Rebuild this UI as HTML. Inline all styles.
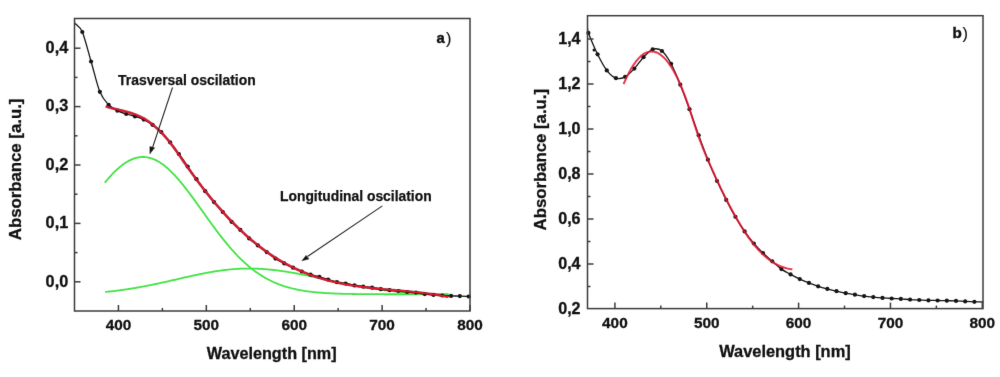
<!DOCTYPE html>
<html><head><meta charset="utf-8"><title>Absorbance spectra</title>
<style>
html,body{margin:0;padding:0;background:#fff;}
body{width:1000px;height:377px;overflow:hidden;font-family:"Liberation Sans",sans-serif;}
svg{display:block;}
</style></head>
<body>
<svg width="1000" height="377" viewBox="0 0 1000 377">
<defs><filter id="jb" x="0" y="0" width="1" height="1" color-interpolation-filters="sRGB"><feConvolveMatrix order="3" kernelMatrix="0.00524 0.06192 0.00524 0.06192 0.73137 0.06192 0.00524 0.06192 0.00524" divisor="1" edgeMode="duplicate" preserveAlpha="false"/></filter></defs>
<rect width="1000" height="377" fill="#fff"/>
<g filter="url(#jb)">
<rect width="1000" height="377" fill="#fff"/>
<g fill="none" stroke-linejoin="round" stroke-linecap="round">
  <path d="M105.30 182.08 L106.30 180.88 L107.30 179.71 L108.30 178.56 L109.30 177.43 L110.30 176.32 L111.30 175.24 L112.30 174.18 L113.30 173.14 L114.30 172.13 L115.30 171.15 L116.30 170.19 L117.30 169.27 L118.30 168.37 L119.30 167.50 L120.30 166.66 L121.30 165.85 L122.30 165.08 L123.30 164.34 L124.30 163.62 L125.30 162.95 L126.30 162.30 L127.30 161.70 L128.30 161.12 L129.30 160.58 L130.30 160.08 L131.30 159.62 L132.30 159.19 L133.30 158.80 L134.30 158.44 L135.30 158.13 L136.30 157.85 L137.30 157.61 L138.30 157.41 L139.30 157.24 L140.30 157.12 L141.30 157.04 L142.30 156.99 L143.30 156.98 L144.30 157.01 L145.30 157.09 L146.30 157.19 L147.30 157.34 L148.30 157.53 L149.30 157.76 L150.30 158.02 L151.30 158.32 L152.30 158.67 L153.30 159.04 L154.30 159.46 L155.30 159.91 L156.30 160.40 L157.30 160.92 L158.30 161.49 L159.30 162.08 L160.30 162.71 L161.30 163.38 L162.30 164.08 L163.30 164.81 L164.30 165.57 L165.30 166.37 L166.30 167.20 L167.30 168.05 L168.30 168.94 L169.30 169.86 L170.30 170.80 L171.30 171.78 L172.30 172.78 L173.30 173.80 L174.30 174.85 L175.30 175.93 L176.30 177.03 L177.30 178.15 L178.30 179.29 L179.30 180.46 L180.30 181.64 L181.30 182.85 L182.30 184.07 L183.30 185.31 L184.30 186.57 L185.30 187.84 L186.30 189.13 L187.30 190.43 L188.30 191.75 L189.30 193.07 L190.30 194.41 L191.30 195.76 L192.30 197.12 L193.30 198.49 L194.30 199.86 L195.30 201.24 L196.30 202.63 L197.30 204.02 L198.30 205.42 L199.30 206.81 L200.30 208.22 L201.30 209.62 L202.30 211.02 L203.30 212.43 L204.30 213.83 L205.30 215.23 L206.30 216.63 L207.30 218.03 L208.30 219.42 L209.30 220.81 L210.30 222.19 L211.30 223.57 L212.30 224.94 L213.30 226.30 L214.30 227.65 L215.30 229.00 L216.30 230.34 L217.30 231.67 L218.30 232.98 L219.30 234.29 L220.30 235.59 L221.30 236.87 L222.30 238.14 L223.30 239.40 L224.30 240.65 L225.30 241.88 L226.30 243.10 L227.30 244.31 L228.30 245.50 L229.30 246.67 L230.30 247.83 L231.30 248.98 L232.30 250.11 L233.30 251.22 L234.30 252.32 L235.30 253.40 L236.30 254.46 L237.30 255.51 L238.30 256.54 L239.30 257.56 L240.30 258.55 L241.30 259.53 L242.30 260.50 L243.30 261.44 L244.30 262.37 L245.30 263.28 L246.30 264.17 L247.30 265.05 L248.30 265.90 L249.30 266.74 L250.30 267.57 L251.30 268.37 L252.30 269.16 L253.30 269.93 L254.30 270.69 L255.30 271.43 L256.30 272.15 L257.30 272.85 L258.30 273.54 L259.30 274.21 L260.30 274.87 L261.30 275.51 L262.30 276.13 L263.30 276.74 L264.30 277.33 L265.30 277.90 L266.30 278.47 L267.30 279.01 L268.30 279.54 L269.30 280.06 L270.30 280.56 L271.30 281.05 L272.30 281.53 L273.30 281.99 L274.30 282.44 L275.30 282.87 L276.30 283.29 L277.30 283.70 L278.30 284.10 L279.30 284.49 L280.30 284.86 L281.30 285.22 L282.30 285.57 L283.30 285.91 L284.30 286.24 L285.30 286.55 L286.30 286.86 L287.30 287.16 L288.30 287.44 L289.30 287.72 L290.30 287.99 L291.30 288.25 L292.30 288.50 L293.30 288.74 L294.30 288.97 L295.30 289.19 L296.30 289.41 L297.30 289.61 L298.30 289.81 L299.30 290.01 L300.30 290.19 L301.30 290.37 L302.30 290.54 L303.30 290.71 L304.30 290.87 L305.30 291.02 L306.30 291.17 L307.30 291.31 L308.30 291.44 L309.30 291.57 L310.30 291.70 L311.30 291.82 L312.30 291.93 L313.30 292.04 L314.30 292.15 L315.30 292.25 L316.30 292.34 L317.30 292.44 L318.30 292.52 L319.30 292.61 L320.30 292.69 L321.30 292.77 L322.30 292.84 L323.30 292.91 L324.30 292.98 L325.30 293.04 L326.30 293.11 L327.30 293.16 L328.30 293.22 L329.30 293.27 L330.30 293.32 L331.30 293.37 L332.30 293.42 L333.30 293.46 L334.30 293.51 L335.30 293.55 L336.30 293.58 L337.30 293.62 L338.30 293.65 L339.30 293.69 L340.30 293.72 L341.30 293.75 L342.30 293.78 L343.30 293.80 L344.30 293.83 L345.30 293.85 L346.30 293.88 L347.30 293.90 L348.30 293.92 L349.30 293.94 L350.30 293.96 L351.30 293.97 L352.30 293.99 L353.30 294.01 L354.30 294.02 L355.30 294.03 L356.30 294.05 L357.30 294.06 L358.30 294.07 L359.30 294.08 L360.30 294.09 L361.30 294.10 L362.30 294.11 L363.30 294.12 L364.30 294.13 L365.30 294.14 L366.30 294.15 L367.30 294.15 L368.30 294.16 L369.30 294.17 L370.30 294.17 L371.30 294.18 L372.30 294.18 L373.30 294.19 L374.30 294.19 L375.30 294.20 L376.30 294.20 L377.30 294.20 L378.30 294.21 L379.30 294.21 L380.30 294.21 L381.30 294.22 L382.30 294.22 L383.30 294.22 L384.30 294.23 L385.30 294.23 L386.30 294.23 L387.30 294.23 L388.30 294.23 L389.30 294.24 L390.30 294.24 L391.30 294.24 L392.30 294.24 L393.30 294.24 L394.30 294.24 L395.30 294.24 L396.30 294.25 L397.30 294.25 L398.30 294.25 L399.30 294.25 L400.30 294.25 L401.30 294.25 L402.30 294.25 L403.30 294.25 L404.30 294.25 L405.30 294.25 L406.30 294.25 L407.30 294.25 L408.30 294.25 L409.30 294.25 L410.30 294.25 L411.30 294.26 L412.30 294.26 L413.30 294.26 L414.30 294.26 L415.30 294.26 L416.30 294.26 L417.30 294.26 L418.30 294.26 L419.30 294.26 L420.30 294.26 L421.30 294.26 L422.30 294.26 L423.30 294.26 L424.30 294.26 L425.30 294.26 L426.30 294.26 L427.30 294.26 L428.30 294.26 L429.30 294.26 L430.30 294.26 L431.30 294.26 L432.30 294.26 L433.30 294.26 L434.30 294.26 L435.30 294.26 L436.30 294.26 L437.30 294.26 L438.30 294.26 L439.30 294.26 L440.30 294.26 L441.30 294.26 L442.30 294.26 L443.30 294.26 L444.30 294.26 L445.30 294.26 L446.30 294.26 L447.30 294.26 L448.00 294.26" stroke="#40e444" stroke-width="1.8"/>
  <path d="M105.80 291.93 L106.80 291.83 L107.80 291.72 L108.80 291.61 L109.80 291.51 L110.80 291.39 L111.80 291.28 L112.80 291.16 L113.80 291.05 L114.80 290.92 L115.80 290.80 L116.80 290.68 L117.80 290.55 L118.80 290.42 L119.80 290.29 L120.80 290.15 L121.80 290.01 L122.80 289.88 L123.80 289.73 L124.80 289.59 L125.80 289.44 L126.80 289.29 L127.80 289.14 L128.80 288.99 L129.80 288.83 L130.80 288.67 L131.80 288.51 L132.80 288.35 L133.80 288.19 L134.80 288.02 L135.80 287.85 L136.80 287.68 L137.80 287.50 L138.80 287.32 L139.80 287.15 L140.80 286.96 L141.80 286.78 L142.80 286.59 L143.80 286.41 L144.80 286.22 L145.80 286.03 L146.80 285.83 L147.80 285.64 L148.80 285.44 L149.80 285.24 L150.80 285.04 L151.80 284.83 L152.80 284.63 L153.80 284.42 L154.80 284.21 L155.80 284.00 L156.80 283.79 L157.80 283.57 L158.80 283.36 L159.80 283.14 L160.80 282.92 L161.80 282.71 L162.80 282.48 L163.80 282.26 L164.80 282.04 L165.80 281.82 L166.80 281.59 L167.80 281.37 L168.80 281.14 L169.80 280.91 L170.80 280.69 L171.80 280.46 L172.80 280.23 L173.80 280.00 L174.80 279.77 L175.80 279.54 L176.80 279.31 L177.80 279.08 L178.80 278.85 L179.80 278.62 L180.80 278.39 L181.80 278.16 L182.80 277.93 L183.80 277.70 L184.80 277.48 L185.80 277.25 L186.80 277.02 L187.80 276.80 L188.80 276.57 L189.80 276.35 L190.80 276.13 L191.80 275.91 L192.80 275.69 L193.80 275.47 L194.80 275.25 L195.80 275.04 L196.80 274.82 L197.80 274.61 L198.80 274.40 L199.80 274.20 L200.80 273.99 L201.80 273.79 L202.80 273.59 L203.80 273.39 L204.80 273.20 L205.80 273.01 L206.80 272.82 L207.80 272.63 L208.80 272.45 L209.80 272.27 L210.80 272.09 L211.80 271.92 L212.80 271.75 L213.80 271.58 L214.80 271.42 L215.80 271.26 L216.80 271.10 L217.80 270.95 L218.80 270.81 L219.80 270.66 L220.80 270.52 L221.80 270.39 L222.80 270.26 L223.80 270.13 L224.80 270.01 L225.80 269.89 L226.80 269.78 L227.80 269.67 L228.80 269.56 L229.80 269.46 L230.80 269.37 L231.80 269.28 L232.80 269.19 L233.80 269.11 L234.80 269.04 L235.80 268.97 L236.80 268.90 L237.80 268.84 L238.80 268.79 L239.80 268.74 L240.80 268.69 L241.80 268.66 L242.80 268.62 L243.80 268.59 L244.80 268.57 L245.80 268.55 L246.80 268.54 L247.80 268.53 L248.80 268.53 L249.80 268.53 L250.80 268.54 L251.80 268.55 L252.80 268.57 L253.80 268.59 L254.80 268.62 L255.80 268.65 L256.80 268.69 L257.80 268.73 L258.80 268.77 L259.80 268.82 L260.80 268.88 L261.80 268.94 L262.80 269.00 L263.80 269.07 L264.80 269.14 L265.80 269.22 L266.80 269.30 L267.80 269.39 L268.80 269.48 L269.80 269.57 L270.80 269.67 L271.80 269.77 L272.80 269.88 L273.80 269.99 L274.80 270.11 L275.80 270.22 L276.80 270.35 L277.80 270.47 L278.80 270.60 L279.80 270.74 L280.80 270.88 L281.80 271.02 L282.80 271.16 L283.80 271.31 L284.80 271.46 L285.80 271.62 L286.80 271.77 L287.80 271.94 L288.80 272.10 L289.80 272.27 L290.80 272.44 L291.80 272.61 L292.80 272.79 L293.80 272.96 L294.80 273.14 L295.80 273.33 L296.80 273.51 L297.80 273.70 L298.80 273.89 L299.80 274.08 L300.80 274.28 L301.80 274.47 L302.80 274.67 L303.80 274.87 L304.80 275.07 L305.80 275.28 L306.80 275.48 L307.80 275.69 L308.80 275.89 L309.80 276.10 L310.80 276.31 L311.80 276.52 L312.80 276.73 L313.80 276.95 L314.80 277.16 L315.80 277.38 L316.80 277.59 L317.80 277.81 L318.80 278.02 L319.80 278.24 L320.80 278.46 L321.80 278.67 L322.80 278.89 L323.80 279.11 L324.80 279.33 L325.80 279.54 L326.80 279.76 L327.80 279.98 L328.80 280.19 L329.80 280.41 L330.80 280.63 L331.80 280.84 L332.80 281.06 L333.80 281.27 L334.80 281.48 L335.80 281.70 L336.80 281.91 L337.80 282.12 L338.80 282.33 L339.80 282.54 L340.80 282.75 L341.80 282.95 L342.80 283.16 L343.80 283.36 L344.80 283.57 L345.80 283.77 L346.80 283.97 L347.80 284.17 L348.80 284.37 L349.80 284.56 L350.80 284.76 L351.80 284.95 L352.80 285.14 L353.80 285.33 L354.80 285.52 L355.80 285.71 L356.80 285.89 L357.80 286.07 L358.80 286.26 L359.80 286.44 L360.80 286.61 L361.80 286.79 L362.80 286.96 L363.80 287.13 L364.80 287.30 L365.80 287.47 L366.80 287.64 L367.80 287.80 L368.80 287.96 L369.80 288.12 L370.80 288.28 L371.80 288.43 L372.80 288.58 L373.80 288.74 L374.80 288.88 L375.80 289.03 L376.80 289.18 L377.80 289.32 L378.80 289.46 L379.80 289.60 L380.80 289.73 L381.80 289.87 L382.80 290.00 L383.80 290.13 L384.80 290.26 L385.80 290.38 L386.80 290.51 L387.80 290.63 L388.80 290.75 L389.80 290.86 L390.80 290.98 L391.80 291.09 L392.80 291.20 L393.80 291.31 L394.80 291.42 L395.80 291.52 L396.80 291.63 L397.80 291.73 L398.80 291.83 L399.80 291.93 L400.80 292.02 L401.80 292.11 L402.80 292.21 L403.80 292.29 L404.80 292.38 L405.80 292.47 L406.80 292.55 L407.80 292.63 L408.80 292.72 L409.80 292.79 L410.80 292.87 L411.80 292.95 L412.80 293.02 L413.80 293.09 L414.80 293.16 L415.80 293.23 L416.80 293.30 L417.80 293.36 L418.80 293.43 L419.80 293.49 L420.80 293.55 L421.80 293.61 L422.80 293.67 L423.80 293.73 L424.80 293.78 L425.80 293.84 L426.80 293.89 L427.80 293.94 L428.80 293.99 L429.80 294.04 L430.80 294.08 L431.80 294.13 L432.80 294.18 L433.80 294.22 L434.80 294.26 L435.80 294.30 L436.80 294.34 L437.80 294.38 L438.80 294.42 L439.80 294.46 L440.80 294.49 L441.80 294.53 L442.80 294.56 L443.80 294.60 L444.80 294.63 L445.80 294.66 L446.80 294.69 L447.80 294.72 L448.00 294.72" stroke="#40e444" stroke-width="1.8"/>
  <path d="M74.60 23.00 C77.17 26.00 79.55 25.58 82.30 32.00 C85.05 38.42 88.15 51.53 91.08 61.50 C94.01 71.47 96.93 84.58 99.86 91.80 C102.79 99.02 105.71 101.65 108.64 104.80 C111.57 107.95 114.49 109.17 117.42 110.70 C120.35 112.23 123.27 113.05 126.20 114.00 C129.13 114.95 132.05 115.47 134.98 116.40 C137.91 117.33 140.83 118.20 143.76 119.60 C146.69 121.00 149.61 122.72 152.54 124.80 C155.47 126.88 158.39 129.18 161.32 132.10 C164.25 135.02 167.17 138.65 170.10 142.30 C173.03 145.95 175.95 149.97 178.88 154.00 C181.81 158.03 184.73 162.30 187.66 166.50 C190.59 170.70 193.51 175.08 196.44 179.20 C199.37 183.32 202.29 187.38 205.22 191.20 C208.15 195.02 211.07 198.63 214.00 202.10 C216.93 205.57 219.85 208.72 222.78 212.00 C225.71 215.28 228.63 218.82 231.56 221.80 C234.49 224.78 237.41 227.13 240.34 229.90 C243.27 232.67 246.19 235.82 249.12 238.40 C252.05 240.98 254.97 243.12 257.90 245.40 C260.83 247.68 263.75 249.90 266.68 252.10 C269.61 254.30 272.53 256.72 275.46 258.60 C278.39 260.48 281.31 261.88 284.24 263.40 C287.17 264.92 290.09 266.35 293.02 267.70 C295.95 269.05 298.87 270.33 301.80 271.50 C304.73 272.67 307.65 273.82 310.58 274.70 C313.51 275.58 316.43 275.98 319.36 276.80 C322.29 277.62 325.21 278.70 328.14 279.60 C331.07 280.50 333.99 281.53 336.92 282.20 C339.85 282.87 342.77 283.07 345.70 283.60 C348.63 284.13 351.55 284.88 354.48 285.40 C357.41 285.92 360.33 286.32 363.26 286.70 C366.19 287.08 369.11 287.28 372.04 287.70 C374.97 288.12 377.89 288.78 380.82 289.20 C383.75 289.62 386.67 289.90 389.60 290.20 C392.53 290.50 395.45 290.70 398.38 291.00 C401.31 291.30 404.23 291.73 407.16 292.00 C410.09 292.27 413.01 292.25 415.94 292.60 C418.87 292.95 421.79 293.72 424.72 294.10 C427.65 294.48 430.57 294.67 433.50 294.90 C436.43 295.13 439.35 295.33 442.28 295.50 C445.21 295.67 448.13 295.80 451.06 295.90 C453.99 296.00 456.91 296.00 459.84 296.10 C462.77 296.20 466.93 296.42 468.62 296.50 C470.31 296.58 469.54 296.57 470.00 296.60" stroke="#151515" stroke-width="1.3"/>
</g>
<g fill="#151515"><circle cx="82.30" cy="32.00" r="2.1"/><circle cx="91.08" cy="61.50" r="2.1"/><circle cx="99.86" cy="91.80" r="2.1"/><circle cx="108.64" cy="104.80" r="2.1"/><circle cx="117.42" cy="110.70" r="2.1"/><circle cx="126.20" cy="114.00" r="2.1"/><circle cx="134.98" cy="116.40" r="2.1"/><circle cx="143.76" cy="119.60" r="2.1"/><circle cx="152.54" cy="124.80" r="2.1"/><circle cx="161.32" cy="132.10" r="2.1"/><circle cx="170.10" cy="142.30" r="2.1"/><circle cx="178.88" cy="154.00" r="2.1"/><circle cx="187.66" cy="166.50" r="2.1"/><circle cx="196.44" cy="179.20" r="2.1"/><circle cx="205.22" cy="191.20" r="2.1"/><circle cx="214.00" cy="202.10" r="2.1"/><circle cx="222.78" cy="212.00" r="2.1"/><circle cx="231.56" cy="221.80" r="2.1"/><circle cx="240.34" cy="229.90" r="2.1"/><circle cx="249.12" cy="238.40" r="2.1"/><circle cx="257.90" cy="245.40" r="2.1"/><circle cx="266.68" cy="252.10" r="2.1"/><circle cx="275.46" cy="258.60" r="2.1"/><circle cx="284.24" cy="263.40" r="2.1"/><circle cx="293.02" cy="267.70" r="2.1"/><circle cx="301.80" cy="271.50" r="2.1"/><circle cx="310.58" cy="274.70" r="2.1"/><circle cx="319.36" cy="276.80" r="2.1"/><circle cx="328.14" cy="279.60" r="2.1"/><circle cx="336.92" cy="282.20" r="2.1"/><circle cx="345.70" cy="283.60" r="2.1"/><circle cx="354.48" cy="285.40" r="2.1"/><circle cx="363.26" cy="286.70" r="2.1"/><circle cx="372.04" cy="287.70" r="2.1"/><circle cx="380.82" cy="289.20" r="2.1"/><circle cx="389.60" cy="290.20" r="2.1"/><circle cx="398.38" cy="291.00" r="2.1"/><circle cx="407.16" cy="292.00" r="2.1"/><circle cx="415.94" cy="292.60" r="2.1"/><circle cx="424.72" cy="294.10" r="2.1"/><circle cx="433.50" cy="294.90" r="2.1"/><circle cx="442.28" cy="295.50" r="2.1"/><circle cx="451.06" cy="295.90" r="2.1"/><circle cx="459.84" cy="296.10" r="2.1"/><circle cx="468.62" cy="296.50" r="2.1"/></g>
<g fill="none" stroke-linejoin="round">
  <path d="M105.70 106.43 L107.70 107.03 L109.70 107.60 L111.70 108.12 L113.70 108.62 L115.70 109.10 L117.70 109.57 L119.70 110.04 L121.70 110.51 L123.70 111.00 L125.70 111.51 L127.70 112.05 L129.70 112.63 L131.70 113.26 L133.70 113.94 L135.70 114.69 L137.70 115.51 L139.70 116.41 L141.70 117.39 L143.70 118.48 L145.70 119.66 L147.70 120.96 L149.70 122.35 L151.70 123.85 L153.70 125.46 L155.70 127.17 L157.70 128.99 L159.70 130.92 L161.70 132.95 L163.70 135.10 L165.70 137.34 L167.70 139.70 L169.70 142.17 L171.70 144.74 L173.70 147.41 L175.70 150.16 L177.70 152.97 L179.70 155.82 L181.70 158.71 L183.70 161.61 L185.70 164.50 L187.70 167.38 L189.70 170.22 L191.70 173.02 L193.70 175.79 L195.70 178.52 L197.70 181.21 L199.70 183.87 L201.70 186.49 L203.70 189.08 L205.70 191.62 L207.70 194.13 L209.70 196.61 L211.70 199.05 L213.70 201.45 L215.70 203.81 L217.70 206.14 L219.70 208.43 L221.70 210.69 L223.70 212.91 L225.70 215.09 L227.70 217.24 L229.70 219.35 L231.70 221.42 L233.70 223.46 L235.70 225.46 L237.70 227.42 L239.70 229.35 L241.70 231.24 L243.70 233.10 L245.70 234.92 L247.70 236.70 L249.70 238.45 L251.70 240.16 L253.70 241.84 L255.70 243.47 L257.70 245.08 L259.70 246.64 L261.70 248.17 L263.70 249.67 L265.70 251.13 L267.70 252.55 L269.70 253.93 L271.70 255.28 L273.70 256.60 L275.70 257.88 L277.70 259.12 L279.70 260.32 L281.70 261.50 L283.70 262.63 L285.70 263.74 L287.70 264.81 L289.70 265.85 L291.70 266.86 L293.70 267.83 L295.70 268.78 L297.70 269.69 L299.70 270.58 L301.70 271.44 L303.70 272.27 L305.70 273.07 L307.70 273.85 L309.70 274.59 L311.70 275.32 L313.70 276.01 L315.70 276.69 L317.70 277.34 L319.70 277.96 L321.70 278.57 L323.70 279.15 L325.70 279.71 L327.70 280.25 L329.70 280.76 L331.70 281.26 L333.70 281.74 L335.70 282.20 L337.70 282.64 L339.70 283.07 L341.70 283.48 L343.70 283.87 L345.70 284.25 L347.70 284.61 L349.70 284.95 L351.70 285.29 L353.70 285.61 L355.70 285.92 L357.70 286.21 L359.70 286.49 L361.70 286.77 L363.70 287.03 L365.70 287.28 L367.70 287.53 L369.70 287.76 L371.70 287.99 L373.70 288.21 L375.70 288.43 L377.70 288.64 L379.70 288.84 L381.70 289.04 L383.70 289.23 L385.70 289.42 L387.70 289.61 L389.70 289.79 L391.70 289.97 L393.70 290.16 L395.70 290.34 L397.70 290.52 L399.70 290.70 L401.70 290.88 L403.70 291.07 L405.70 291.25 L407.70 291.44 L409.70 291.63 L411.70 291.83 L413.70 292.03 L415.70 292.24 L417.70 292.45 L419.70 292.67 L421.70 292.90 L423.70 293.13 L425.70 293.38 L427.70 293.63 L429.70 293.89 L431.70 294.16 L433.70 294.44 L435.70 294.73 L437.70 295.04 L439.70 295.36 L441.70 295.69 L443.70 296.03 L445.70 296.39 L447.70 296.76 L448.50 296.91" stroke="#3a0a10" stroke-width="2.7" stroke-linecap="butt" opacity="0.55"/>
  <path d="M105.70 106.43 L107.70 107.03 L109.70 107.60 L111.70 108.12 L113.70 108.62 L115.70 109.10 L117.70 109.57 L119.70 110.04 L121.70 110.51 L123.70 111.00 L125.70 111.51 L127.70 112.05 L129.70 112.63 L131.70 113.26 L133.70 113.94 L135.70 114.69 L137.70 115.51 L139.70 116.41 L141.70 117.39 L143.70 118.48 L145.70 119.66 L147.70 120.96 L149.70 122.35 L151.70 123.85 L153.70 125.46 L155.70 127.17 L157.70 128.99 L159.70 130.92 L161.70 132.95 L163.70 135.10 L165.70 137.34 L167.70 139.70 L169.70 142.17 L171.70 144.74 L173.70 147.41 L175.70 150.16 L177.70 152.97 L179.70 155.82 L181.70 158.71 L183.70 161.61 L185.70 164.50 L187.70 167.38 L189.70 170.22 L191.70 173.02 L193.70 175.79 L195.70 178.52 L197.70 181.21 L199.70 183.87 L201.70 186.49 L203.70 189.08 L205.70 191.62 L207.70 194.13 L209.70 196.61 L211.70 199.05 L213.70 201.45 L215.70 203.81 L217.70 206.14 L219.70 208.43 L221.70 210.69 L223.70 212.91 L225.70 215.09 L227.70 217.24 L229.70 219.35 L231.70 221.42 L233.70 223.46 L235.70 225.46 L237.70 227.42 L239.70 229.35 L241.70 231.24 L243.70 233.10 L245.70 234.92 L247.70 236.70 L249.70 238.45 L251.70 240.16 L253.70 241.84 L255.70 243.47 L257.70 245.08 L259.70 246.64 L261.70 248.17 L263.70 249.67 L265.70 251.13 L267.70 252.55 L269.70 253.93 L271.70 255.28 L273.70 256.60 L275.70 257.88 L277.70 259.12 L279.70 260.32 L281.70 261.50 L283.70 262.63 L285.70 263.74 L287.70 264.81 L289.70 265.85 L291.70 266.86 L293.70 267.83 L295.70 268.78 L297.70 269.69 L299.70 270.58 L301.70 271.44 L303.70 272.27 L305.70 273.07 L307.70 273.85 L309.70 274.59 L311.70 275.32 L313.70 276.01 L315.70 276.69 L317.70 277.34 L319.70 277.96 L321.70 278.57 L323.70 279.15 L325.70 279.71 L327.70 280.25 L329.70 280.76 L331.70 281.26 L333.70 281.74 L335.70 282.20 L337.70 282.64 L339.70 283.07 L341.70 283.48 L343.70 283.87 L345.70 284.25 L347.70 284.61 L349.70 284.95 L351.70 285.29 L353.70 285.61 L355.70 285.92 L357.70 286.21 L359.70 286.49 L361.70 286.77 L363.70 287.03 L365.70 287.28 L367.70 287.53 L369.70 287.76 L371.70 287.99 L373.70 288.21 L375.70 288.43 L377.70 288.64 L379.70 288.84 L381.70 289.04 L383.70 289.23 L385.70 289.42 L387.70 289.61 L389.70 289.79 L391.70 289.97 L393.70 290.16 L395.70 290.34 L397.70 290.52 L399.70 290.70 L401.70 290.88 L403.70 291.07 L405.70 291.25 L407.70 291.44 L409.70 291.63 L411.70 291.83 L413.70 292.03 L415.70 292.24 L417.70 292.45 L419.70 292.67 L421.70 292.90 L423.70 293.13 L425.70 293.38 L427.70 293.63 L429.70 293.89 L431.70 294.16 L433.70 294.44 L435.70 294.73 L437.70 295.04 L439.70 295.36 L441.70 295.69 L443.70 296.03 L445.70 296.39 L447.70 296.76 L448.50 296.91" stroke="#e3142e" stroke-width="1.9" stroke-linecap="butt" opacity="1.0"/>
  <path d="M587.60 29.00 C587.87 30.30 586.74 28.68 588.40 32.90 C590.06 37.12 594.53 48.05 597.59 54.30 C600.65 60.55 603.72 66.42 606.78 70.40 C609.84 74.38 612.91 77.13 615.97 78.20 C619.03 79.27 622.10 78.40 625.16 76.80 C628.22 75.20 631.29 71.87 634.35 68.60 C637.41 65.33 640.48 60.42 643.54 57.20 C646.60 53.98 649.67 50.33 652.73 49.30 C655.79 48.27 658.86 48.58 661.92 51.00 C664.98 53.42 668.05 58.18 671.11 63.80 C674.17 69.42 677.24 77.13 680.30 84.70 C683.36 92.27 686.43 100.77 689.49 109.20 C692.55 117.63 695.62 126.88 698.68 135.30 C701.74 143.72 704.81 152.08 707.87 159.70 C710.93 167.32 714.00 174.30 717.06 181.00 C720.12 187.70 723.19 193.93 726.25 199.90 C729.31 205.87 732.38 211.55 735.44 216.80 C738.50 222.05 741.57 226.95 744.63 231.40 C747.69 235.85 750.76 239.90 753.82 243.50 C756.88 247.10 759.95 250.03 763.01 253.00 C766.07 255.97 769.14 258.62 772.20 261.30 C775.26 263.98 778.33 266.92 781.39 269.10 C784.45 271.28 787.52 272.73 790.58 274.40 C793.64 276.07 796.71 277.68 799.77 279.10 C802.83 280.52 805.90 281.70 808.96 282.90 C812.02 284.10 815.09 285.30 818.15 286.30 C821.21 287.30 824.28 288.08 827.34 288.90 C830.40 289.72 833.47 290.48 836.53 291.20 C839.59 291.92 842.66 292.62 845.72 293.20 C848.78 293.78 851.85 294.22 854.91 294.70 C857.97 295.18 861.04 295.70 864.10 296.10 C867.16 296.50 870.23 296.80 873.29 297.10 C876.35 297.40 879.42 297.67 882.48 297.90 C885.54 298.13 888.61 298.33 891.67 298.50 C894.73 298.67 897.80 298.72 900.86 298.90 C903.92 299.08 906.99 299.42 910.05 299.60 C913.11 299.78 916.18 299.87 919.24 300.00 C922.30 300.13 925.37 300.32 928.43 300.40 C931.49 300.48 934.56 300.45 937.62 300.50 C940.68 300.55 943.75 300.63 946.81 300.70 C949.87 300.77 952.94 300.78 956.00 300.90 C959.06 301.02 962.13 301.25 965.19 301.40 C968.25 301.55 971.41 301.70 974.38 301.80 C977.35 301.90 980.13 301.93 983.00 302.00" stroke="#151515" stroke-width="1.3" stroke-linecap="round"/>
</g>
<g fill="#151515"><circle cx="588.40" cy="32.90" r="2.1"/><circle cx="597.59" cy="54.30" r="2.1"/><circle cx="606.78" cy="70.40" r="2.1"/><circle cx="615.97" cy="78.20" r="2.1"/><circle cx="625.16" cy="76.80" r="2.1"/><circle cx="634.35" cy="68.60" r="2.1"/><circle cx="643.54" cy="57.20" r="2.1"/><circle cx="652.73" cy="49.30" r="2.1"/><circle cx="661.92" cy="51.00" r="2.1"/><circle cx="671.11" cy="63.80" r="2.1"/><circle cx="680.30" cy="84.70" r="2.1"/><circle cx="689.49" cy="109.20" r="2.1"/><circle cx="698.68" cy="135.30" r="2.1"/><circle cx="707.87" cy="159.70" r="2.1"/><circle cx="717.06" cy="181.00" r="2.1"/><circle cx="726.25" cy="199.90" r="2.1"/><circle cx="735.44" cy="216.80" r="2.1"/><circle cx="744.63" cy="231.40" r="2.1"/><circle cx="753.82" cy="243.50" r="2.1"/><circle cx="763.01" cy="253.00" r="2.1"/><circle cx="772.20" cy="261.30" r="2.1"/><circle cx="781.39" cy="269.10" r="2.1"/><circle cx="790.58" cy="274.40" r="2.1"/><circle cx="799.77" cy="279.10" r="2.1"/><circle cx="808.96" cy="282.90" r="2.1"/><circle cx="818.15" cy="286.30" r="2.1"/><circle cx="827.34" cy="288.90" r="2.1"/><circle cx="836.53" cy="291.20" r="2.1"/><circle cx="845.72" cy="293.20" r="2.1"/><circle cx="854.91" cy="294.70" r="2.1"/><circle cx="864.10" cy="296.10" r="2.1"/><circle cx="873.29" cy="297.10" r="2.1"/><circle cx="882.48" cy="297.90" r="2.1"/><circle cx="891.67" cy="298.50" r="2.1"/><circle cx="900.86" cy="298.90" r="2.1"/><circle cx="910.05" cy="299.60" r="2.1"/><circle cx="919.24" cy="300.00" r="2.1"/><circle cx="928.43" cy="300.40" r="2.1"/><circle cx="937.62" cy="300.50" r="2.1"/><circle cx="946.81" cy="300.70" r="2.1"/><circle cx="956.00" cy="300.90" r="2.1"/><circle cx="965.19" cy="301.40" r="2.1"/><circle cx="974.38" cy="301.80" r="2.1"/><circle cx="594.0" cy="49.9" r="1.5"/></g>
<g fill="none" stroke-linejoin="round">
  <path d="M623.60 84.11 L625.10 80.66 L626.60 77.40 L628.10 74.34 L629.60 71.48 L631.10 68.81 L632.60 66.33 L634.10 64.05 L635.60 61.96 L637.10 60.07 L638.60 58.36 L640.10 56.85 L641.60 55.52 L643.10 54.39 L644.60 53.44 L646.10 52.67 L647.60 52.10 L649.10 51.71 L650.60 51.50 L652.10 51.48 L653.60 51.64 L655.10 51.99 L656.60 52.51 L658.10 53.22 L659.60 54.10 L661.10 55.17 L662.60 56.41 L664.10 57.83 L665.60 59.43 L667.10 61.20 L668.60 63.15 L670.10 65.27 L671.60 67.57 L673.10 70.05 L674.60 72.71 L676.10 75.55 L677.60 78.57 L679.10 81.77 L680.60 85.16 L682.10 88.74 L683.60 92.50 L685.10 96.44 L686.60 100.58 L688.10 104.91 L689.60 109.40 L691.10 114.00 L692.60 118.65 L694.10 123.30 L695.60 127.89 L697.10 132.36 L698.60 136.66 L700.10 140.78 L701.60 144.74 L703.10 148.55 L704.60 152.23 L706.10 155.81 L707.60 159.31 L709.10 162.73 L710.60 166.11 L712.10 169.46 L713.60 172.77 L715.10 176.05 L716.60 179.30 L718.10 182.51 L719.60 185.68 L721.10 188.81 L722.60 191.91 L724.10 194.96 L725.60 197.97 L727.10 200.93 L728.60 203.84 L730.10 206.71 L731.60 209.53 L733.10 212.30 L734.60 215.01 L736.10 217.67 L737.60 220.27 L739.10 222.82 L740.60 225.31 L742.10 227.74 L743.60 230.10 L745.10 232.41 L746.60 234.64 L748.10 236.82 L749.60 238.92 L751.10 240.95 L752.60 242.92 L754.10 244.81 L755.60 246.63 L757.10 248.37 L758.60 250.04 L760.10 251.63 L761.60 253.14 L763.10 254.59 L764.60 255.95 L766.10 257.25 L767.60 258.48 L769.10 259.63 L770.60 260.72 L772.10 261.74 L773.60 262.69 L775.10 263.58 L776.60 264.40 L778.10 265.16 L779.60 265.85 L781.10 266.48 L782.60 267.05 L784.10 267.56 L785.60 268.01 L787.10 268.40 L788.60 268.73 L790.10 269.01 L791.60 269.23 L792.40 269.32" stroke="#e3142e" stroke-width="2.0" stroke-linecap="butt" opacity="0.85"/>
</g>
<g stroke="#3c3c3c" stroke-width="1.5" fill="none">
  <rect x="74.5" y="18.5" width="395.5" height="292.5"/>
  <rect x="587.5" y="15.7" width="395.5" height="292.90000000000003"/>
  <line x1="118.44" y1="311.00" x2="118.44" y2="305.00"/><line x1="162.39" y1="311.00" x2="162.39" y2="308.00"/><line x1="206.33" y1="311.00" x2="206.33" y2="305.00"/><line x1="250.28" y1="311.00" x2="250.28" y2="308.00"/><line x1="294.22" y1="311.00" x2="294.22" y2="305.00"/><line x1="338.17" y1="311.00" x2="338.17" y2="308.00"/><line x1="382.11" y1="311.00" x2="382.11" y2="305.00"/><line x1="426.06" y1="311.00" x2="426.06" y2="308.00"/><line x1="470.00" y1="311.00" x2="470.00" y2="305.00"/><line x1="74.50" y1="281.80" x2="80.50" y2="281.80"/><line x1="74.50" y1="252.60" x2="77.50" y2="252.60"/><line x1="74.50" y1="223.40" x2="80.50" y2="223.40"/><line x1="74.50" y1="194.20" x2="77.50" y2="194.20"/><line x1="74.50" y1="165.00" x2="80.50" y2="165.00"/><line x1="74.50" y1="135.80" x2="77.50" y2="135.80"/><line x1="74.50" y1="106.60" x2="80.50" y2="106.60"/><line x1="74.50" y1="77.40" x2="77.50" y2="77.40"/><line x1="74.50" y1="48.20" x2="80.50" y2="48.20"/>
  <line x1="614.90" y1="308.60" x2="614.90" y2="302.60"/><line x1="660.82" y1="308.60" x2="660.82" y2="305.60"/><line x1="706.75" y1="308.60" x2="706.75" y2="302.60"/><line x1="752.67" y1="308.60" x2="752.67" y2="305.60"/><line x1="798.60" y1="308.60" x2="798.60" y2="302.60"/><line x1="844.52" y1="308.60" x2="844.52" y2="305.60"/><line x1="890.45" y1="308.60" x2="890.45" y2="302.60"/><line x1="936.38" y1="308.60" x2="936.38" y2="305.60"/><line x1="982.30" y1="308.60" x2="982.30" y2="302.60"/><line x1="587.50" y1="286.50" x2="590.50" y2="286.50"/><line x1="587.50" y1="264.00" x2="593.50" y2="264.00"/><line x1="587.50" y1="241.50" x2="590.50" y2="241.50"/><line x1="587.50" y1="219.00" x2="593.50" y2="219.00"/><line x1="587.50" y1="196.50" x2="590.50" y2="196.50"/><line x1="587.50" y1="174.00" x2="593.50" y2="174.00"/><line x1="587.50" y1="151.50" x2="590.50" y2="151.50"/><line x1="587.50" y1="129.00" x2="593.50" y2="129.00"/><line x1="587.50" y1="106.50" x2="590.50" y2="106.50"/><line x1="587.50" y1="84.00" x2="593.50" y2="84.00"/><line x1="587.50" y1="61.50" x2="590.50" y2="61.50"/><line x1="587.50" y1="39.00" x2="593.50" y2="39.00"/>
</g>
<g font-family="Liberation Sans, sans-serif" font-weight="bold" font-size="15.5" fill="#111" stroke="#111" stroke-width="0.3">
  <text x="118.44" y="330.2" text-anchor="middle" font-size="15.4" textLength="25.6" lengthAdjust="spacingAndGlyphs">400</text><text x="206.33" y="330.2" text-anchor="middle" font-size="15.4" textLength="25.6" lengthAdjust="spacingAndGlyphs">500</text><text x="294.22" y="330.2" text-anchor="middle" font-size="15.4" textLength="25.6" lengthAdjust="spacingAndGlyphs">600</text><text x="382.11" y="330.2" text-anchor="middle" font-size="15.4" textLength="25.6" lengthAdjust="spacingAndGlyphs">700</text><text x="470.00" y="330.2" text-anchor="middle" font-size="15.4" textLength="25.6" lengthAdjust="spacingAndGlyphs">800</text><text x="68.2" y="286.50" text-anchor="end" font-size="16" textLength="22.6" lengthAdjust="spacingAndGlyphs">0,0</text><text x="68.2" y="228.10" text-anchor="end" font-size="16" textLength="22.6" lengthAdjust="spacingAndGlyphs">0,1</text><text x="68.2" y="169.70" text-anchor="end" font-size="16" textLength="22.6" lengthAdjust="spacingAndGlyphs">0,2</text><text x="68.2" y="111.30" text-anchor="end" font-size="16" textLength="22.6" lengthAdjust="spacingAndGlyphs">0,3</text><text x="68.2" y="52.90" text-anchor="end" font-size="16" textLength="22.6" lengthAdjust="spacingAndGlyphs">0,4</text>
  <text x="614.90" y="328.2" text-anchor="middle" font-size="15.4" textLength="25.6" lengthAdjust="spacingAndGlyphs">400</text><text x="706.75" y="328.2" text-anchor="middle" font-size="15.4" textLength="25.6" lengthAdjust="spacingAndGlyphs">500</text><text x="798.60" y="328.2" text-anchor="middle" font-size="15.4" textLength="25.6" lengthAdjust="spacingAndGlyphs">600</text><text x="890.45" y="328.2" text-anchor="middle" font-size="15.4" textLength="25.6" lengthAdjust="spacingAndGlyphs">700</text><text x="982.30" y="328.2" text-anchor="middle" font-size="15.4" textLength="25.6" lengthAdjust="spacingAndGlyphs">800</text><text x="580.6" y="313.70" text-anchor="end" font-size="16" textLength="22.4" lengthAdjust="spacingAndGlyphs">0,2</text><text x="580.6" y="268.70" text-anchor="end" font-size="16" textLength="22.4" lengthAdjust="spacingAndGlyphs">0,4</text><text x="580.6" y="223.70" text-anchor="end" font-size="16" textLength="22.4" lengthAdjust="spacingAndGlyphs">0,6</text><text x="580.6" y="178.70" text-anchor="end" font-size="16" textLength="22.4" lengthAdjust="spacingAndGlyphs">0,8</text><text x="580.6" y="133.70" text-anchor="end" font-size="16" textLength="22.4" lengthAdjust="spacingAndGlyphs">1,0</text><text x="580.6" y="88.70" text-anchor="end" font-size="16" textLength="22.4" lengthAdjust="spacingAndGlyphs">1,2</text><text x="580.6" y="43.70" text-anchor="end" font-size="16" textLength="22.4" lengthAdjust="spacingAndGlyphs">1,4</text>
</g>
<g font-family="Liberation Sans, sans-serif" font-weight="bold" font-size="16" fill="#111" stroke="#111" stroke-width="0.3">
  <text x="206.8" y="358.8" font-size="15.6" textLength="129.8" lengthAdjust="spacingAndGlyphs">Wavelength [nm]</text>
  <text x="719.2" y="357.0" font-size="15.8" textLength="131.5" lengthAdjust="spacingAndGlyphs">Wavelength [nm]</text>
  <text transform="translate(20.6,240.2) rotate(-90)" textLength="141.6" lengthAdjust="spacingAndGlyphs">Absorbance [a.u.]</text>
  <text transform="translate(545.5,230.4) rotate(-90)" textLength="141.4" lengthAdjust="spacingAndGlyphs">Absorbance [a.u.]</text>
</g>
<g font-family="Liberation Sans, sans-serif" font-weight="bold" font-size="14" fill="#111" stroke="#111" stroke-width="0.25">
  <text x="118.1" y="84.9" textLength="137.6" lengthAdjust="spacingAndGlyphs">Trasversal oscilation</text>
  <text x="280.0" y="200.6" textLength="151.6" lengthAdjust="spacingAndGlyphs">Longitudinal oscilation</text>
</g>
<g font-family="Liberation Sans, sans-serif" fill="#111">
  <text x="436.4" y="43.3" font-size="14.8" font-weight="bold" stroke="#111" stroke-width="0.45">a</text>
  <text x="446.0" y="43.9" font-size="16.3" stroke="#111" stroke-width="0.15">)</text>
  <text x="952.4" y="38.2" font-size="15.2" font-weight="bold" stroke="#111" stroke-width="0.45">b</text>
  <text x="962.6" y="39.3" font-size="16.3" stroke="#111" stroke-width="0.15">)</text>
</g>
<g stroke="#222" stroke-width="1.05" fill="#111">
  <line x1="172.5" y1="87.5" x2="152.6" y2="147.5"/>
  <path d="M149.9 153.8 L149.9 146.6 L154.6 147.8 Z" stroke-width="0.5"/>
  <line x1="382.4" y1="205.9" x2="307.5" y2="256.5"/>
  <path d="M301.9 260.8 L306.1 255.4 L308.9 258.9 Z" stroke-width="0.5"/>
</g>
</g>
</svg>
</body></html>
